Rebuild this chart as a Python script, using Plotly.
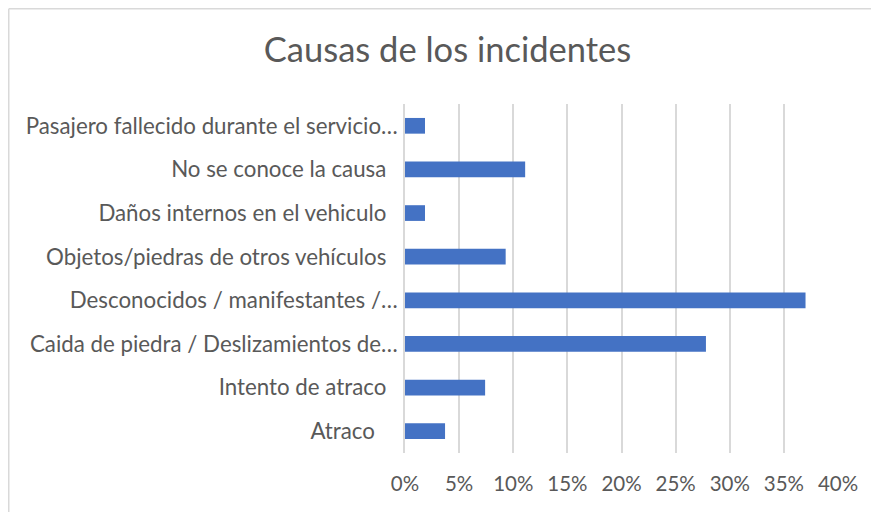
import plotly.graph_objects as go

# categories bottom -> top, as in the Excel chart
causas = [
    "Atraco" + "\u00a0" * 4,
    "Intento de atraco" + "\u00a0" * 2,
    "Caida de piedra / Deslizamientos de…",
    "Desconocidos / manifestantes /…",
    "Objetos/piedras de otros vehículos" + "\u00a0" * 2,
    "Daños internos en el vehiculo" + "\u00a0" * 2,
    "No se conoce la causa" + "\u00a0" * 2,
    "Pasajero fallecido durante el servicio…",
]
porcentaje = [3.7, 7.4, 27.8, 37.0, 9.3, 1.85, 11.1, 1.85]

tick_vals = [0, 5, 10, 15, 20, 25, 30, 35, 40]
tick_text = ["0%", "5%", "10%", "15%", "20%", "25%", "30%", "35%", "40%"]

gris = "#595959"
fuente = "Lato, Calibri, sans-serif"

W, H = 879, 512
off = 8  # default body margin of the html page
ml, mr, mt, mb = 405 - off, 49, 104 - off, 67

fig = go.Figure(go.Bar(
    x=porcentaje,
    y=causas,
    orientation="h",
    width=0.36,
    marker=dict(color="#4472C4", line=dict(width=0)),
))

# chart border (top and left edge only are visible in the crop)
pw = W - ml - mr
ph = H - mt - mb
bx = (0.75 - ml) / pw
by = (H - mb - 0.75) / ph
fig.add_shape(type="line", xref="paper", yref="paper",
              x0=bx, x1=(W - ml) / pw, y0=by, y1=by,
              line=dict(color="#D9D9D9", width=1.5))
fig.add_shape(type="line", xref="paper", yref="paper",
              x0=bx, x1=bx, y0=by, y1=-mb / ph,
              line=dict(color="#D9D9D9", width=1.5))

fig.update_layout(
    width=W, height=H,
    margin=dict(l=ml, r=mr, t=mt, b=mb),
    paper_bgcolor="white", plot_bgcolor="white",
    title=dict(text="Causas de los incidentes",
               x=(447.5 - off - ml) / pw, xref="paper",
               xanchor="center", y=1 - (50 - off) / H, yanchor="middle",
               font=dict(family=fuente, size=34.5, color=gris)),
    font=dict(family=fuente, size=21, color=gris),
    showlegend=False,
)
fig.update_xaxes(
    range=[0, 40], tickvals=tick_vals, ticktext=tick_text,
    showgrid=True, gridcolor="#D9D9D9", gridwidth=1.5,
    zeroline=False, showline=False,
    ticklabelstandoff=16,
    tickfont=dict(family=fuente, size=20.5, color=gris),
)
fig.update_yaxes(
    showgrid=False, zeroline=False,
    showline=True, linecolor="#D9D9D9", linewidth=1.5,
    ticks="", ticklabelstandoff=1,
    tickfont=dict(family=fuente, size=22.3, color=gris),
    range=[-0.5, 7.5],
)

fig.write_html("out.html")
